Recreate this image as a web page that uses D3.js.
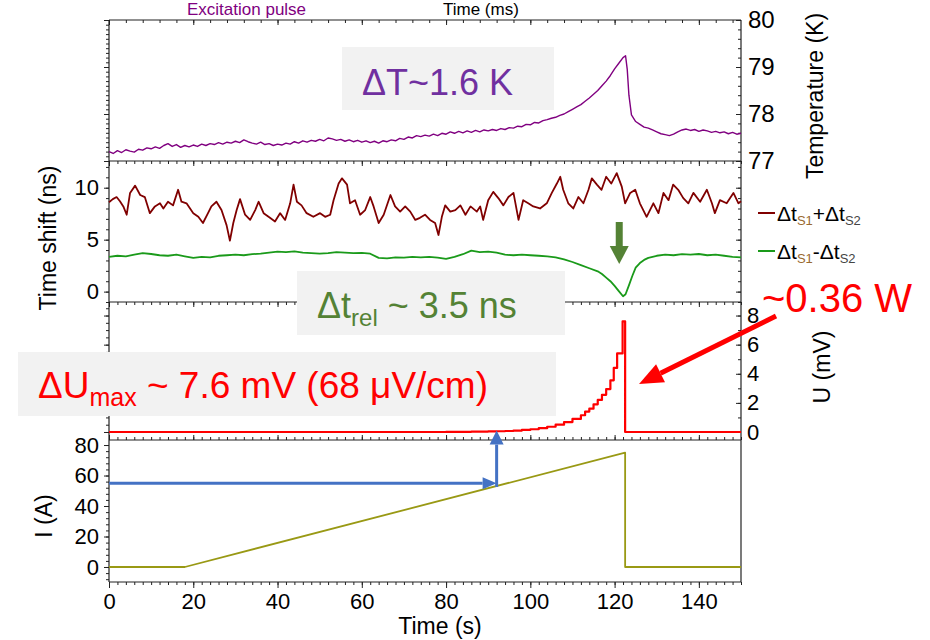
<!DOCTYPE html>
<html>
<head>
<meta charset="UTF-8">
<title>Heating pulse</title>
<script src="https://d3js.org/d3.v7.min.js"></script>
<style>
  body { margin: 0; background: #fff; }
  text { font-family: "Liberation Sans", Arial, sans-serif; }
</style>
</head>
<body>
<div id="chart"></div>
<script>
// ---- data ----
// temperature (K) vs time (s)
const tempData = [
  [0,77.20],[1,77.16],[2,77.22],[3,77.18],[4,77.24],[5,77.21],[6,77.19],[7,77.25],[8,77.23],[9,77.28],
  [10,77.26],[11,77.30],[12,77.27],[13,77.33],[14,77.37],[15,77.31],[16,77.35],[17,77.29],[18,77.33],[19,77.30],
  [20,77.34],[21,77.31],[22,77.36],[23,77.33],[24,77.37],[25,77.35],[26,77.39],[27,77.36],[28,77.40],[29,77.38],
  [30,77.42],[31,77.39],[32,77.45],[33,77.41],[34,77.38],[35,77.36],[36,77.40],[37,77.35],[38,77.37],[39,77.33],
  [40,77.36],[41,77.34],[42,77.38],[43,77.36],[44,77.41],[45,77.38],[46,77.43],[47,77.40],[48,77.44],[49,77.42],
  [50,77.46],[51,77.43],[52,77.49],[53,77.47],[54,77.44],[55,77.46],[56,77.42],[57,77.45],[58,77.41],[59,77.44],
  [60,77.40],[61,77.43],[62,77.39],[63,77.42],[64,77.38],[65,77.43],[66,77.41],[67,77.45],[68,77.43],[69,77.48],
  [70,77.46],[71,77.51],[72,77.49],[73,77.54],[74,77.52],[75,77.55],[76,77.53],[77,77.57],[78,77.54],[79,77.59],
  [80,77.57],[81,77.62],[82,77.59],[83,77.63],[84,77.60],[85,77.64],[86,77.61],[87,77.65],[88,77.62],[89,77.66],
  [90,77.64],[91,77.67],[92,77.65],[93,77.69],[94,77.67],[95,77.71],[96,77.70],[97,77.74],[98,77.73],[99,77.78],
  [100,77.77],[101,77.82],[102,77.81],[103,77.86],[104,77.88],[105,77.91],[106,77.93],[107,77.97],[108,78.00],[109,78.05],
  [110,78.10],[111,78.15],[112,78.20],[113,78.27],[114,78.34],[115,78.42],[116,78.50],[117,78.60],[118,78.70],[119,78.82],
  [120,78.96],[121,79.08],[122,79.20],[122.6,79.24],[123,78.95],[123.4,78.40],[124,77.98],[125,77.84],[126,77.78],[127,77.72],
  [128,77.70],[129,77.66],[130,77.62],[131,77.58],[132,77.56],[133,77.54],[134,77.57],[135,77.62],[136,77.66],[137,77.68],
  [138,77.65],[139,77.67],[140,77.63],[141,77.66],[142,77.64],[143,77.61],[144,77.63],[145,77.60],[146,77.62],[147,77.58],
  [148,77.61],[149,77.57],[150,77.59]
];

// time shift (ns): dt_S1 + dt_S2
const sumShift = [
  [0,8.6],[0.9,8.9],[1.8,9.1],[2.6,8.7],[3.4,8.2],[4.2,7.4],[5,9.5],[6.2,10.2],[7.4,9.3],[8.5,9.1],[9.7,7.55],[10.9,8.2],
  [12.1,8.5],[12.9,8.0],[14,8.65],[15.2,8.3],[16.4,9.8],[17.2,8.65],[18.4,8.5],[20,7.55],[21.2,7.2],[22.3,6.6],
  [23.5,7.55],[24.3,8.2],[25.5,8.65],[26.7,7.85],[27.9,6.4],[28.7,4.9],[29.5,6.6],[30.3,7.85],[31.1,8.9],[32.3,7.4],
  [33.5,6.9],[34.7,7.85],[35.5,8.65],[36.7,7.55],[38.2,7.1],[39.4,6.75],[40.6,7.55],[41.8,6.9],[43,8.5],[43.8,10.3],
  [44.6,8.65],[45.7,8.3],[46.9,7.55],[48.5,7.2],[50.1,7.55],[51.3,7.2],[52.5,7.4],[53.3,8.8],[54.5,10.4],[55.3,10.9],
  [56.5,10.3],[57.2,8.5],[58.4,8.8],[59.6,7.4],[60.8,7.85],[62,9.1],[62.8,8.2],[64,6.6],[65.2,7.4],[66.8,9.3],
  [67.9,8.2],[69.1,7.7],[70.3,8.2],[71.5,7.7],[72.7,6.9],[73.8,7.1],[75,7.4],[76.2,6.9],[77.4,6.6],[78.2,5.45],
  [79,7.2],[79.8,8.3],[81,7.7],[82.2,7.85],[83.4,8.3],[84.6,7.4],[85.8,8.2],[87.3,7.7],[88.1,8.2],[88.8,6.9],
  [90,8.8],[91.2,9.6],[92.4,9.0],[93.6,8.3],[94.8,9.1],[96,9.5],[97.2,6.9],[98.3,8.8],[99.5,8.5],[100.7,8.2],
  [102.3,8.0],[103.9,8.5],[105.1,9.5],[106.3,10.4],[107.1,11.05],[107.8,9.8],[109,8.5],[110.2,8.0],[111.4,9.1],[112.6,8.5],
  [113.8,9.8],[114.6,10.9],[115.8,10.3],[116.9,9.8],[118,11.05],[119.2,10.4],[120.5,11.4],[121.7,10.1],[122.5,8.5],[123.7,9.5],
  [124.9,9.8],[126,8.5],[127.6,7.2],[129.2,8.5],[130.4,7.55],[131.6,9.5],[132.8,8.8],[133.9,10.3],[135.1,9.8],[136.3,9.0],
  [137.5,8.5],[138.7,9.5],[140.3,8.65],[141.9,9.8],[143.1,8.5],[143.8,7.55],[145,8.8],[146.6,8.5],[148.2,9.5],[149.4,8.5],[150,8.7]
];

// time shift (ns): dt_S1 - dt_S2
const diffShift = [
  [0,3.35],[2,3.45],[4,3.40],[6,3.55],[8,3.70],[10,3.62],[12,3.50],[14,3.45],[16,3.55],[18,3.40],
  [20,3.25],[22,3.35],[24,3.30],[26,3.45],[28,3.50],[30,3.55],[32,3.50],[34,3.60],[36,3.65],[38,3.75],
  [40,3.85],[42,3.80],[44,3.88],[46,3.75],[48,3.70],[50,3.65],[52,3.70],[54,3.80],[56,3.75],[58,3.70],
  [60,3.72],[62,3.65],[64,3.25],[66,3.20],[68,3.30],[70,3.28],[72,3.35],[74,3.30],[76,3.35],[78,3.28],
  [80,3.15],[82,3.35],[84,3.60],[86,3.95],[88,3.80],[90,3.85],[92,3.75],[94,3.55],[96,3.50],[98,3.55],
  [100,3.50],[102,3.45],[104,3.40],[106,3.30],[108,3.10],[110,2.85],[112,2.55],[114,2.25],[116,1.95],[117,1.70],
  [118,1.35],[119,1.00],[120,0.55],[121,0.05],[122,-0.45],[122.6,-0.25],[123.4,0.60],[124.2,1.50],[125,2.30],[126,2.75],
  [127,3.05],[128,3.25],[130,3.45],[132,3.55],[134,3.50],[136,3.60],[138,3.55],[140,3.62],[142,3.50],[144,3.55],
  [146,3.45],[148,3.35],[150,3.30]
];

// voltage U (mV), stepped
const voltage = [
  [0,0],[80,0.01],[86,0.02],[88,0.03],[90,0.04],[92,0.05],[94,0.07],[96,0.10],[98,0.14],[100,0.19],
  [102,0.26],[104,0.36],[106,0.50],[108,0.68],[110,0.90],[112,1.15],[113,1.40],[114,1.60],[115,1.90],[116,2.20],
  [117,2.55],[118,2.95],[119,3.55],[119.8,4.4],[120.6,5.4],[121.9,7.6],[122.5,0],[150,0]
];

// current I (A)
const current = [[0,0],[18,0],[122.5,75],[122.5,0],[150,0]];

const xTicks = [0,20,40,60,80,100,120,140];
const tempTicks = [77,78,79,80];
const shiftTicks = [0,5,10];
const voltTicks = [0,2,4,6,8];
const currTicks = [0,20,40,60,80];

// ---- layout ----
const W = 930, H = 640;
const svg = d3.select("#chart").append("svg").attr("width", W).attr("height", H);

const x  = d3.scaleLinear().domain([0,150]).range([109,741]);
const yT = d3.scaleLinear().domain([77,80]).range([161,20]);
const yS = d3.scaleLinear().domain([-1,12.57]).range([302,161]);
const yU = d3.scaleLinear().domain([-0.55,8.93]).range([440,302]);
const yI = d3.scaleLinear().domain([-9.84,83.3]).range([582,440]);

const L = 109, R = 741;
const ink = "#222";

function axis(gen, tx, ty) {
  const g = svg.append("g").attr("transform", `translate(${tx},${ty})`).call(gen);
  g.select(".domain").remove();
  g.selectAll("line").attr("stroke", ink).attr("stroke-width", 1);
  g.selectAll("text").attr("font-size", 22).attr("fill", "#000")
    .attr("font-family", '"Liberation Sans", Arial, sans-serif');
  return g;
}
const none = () => "";
const int = d3.format("d");
const rng = (a, b, s) => d3.range(a, b + s / 2, s);

// top-edge ticks of each panel (inward)
[[20,4],[161,2],[302,2]].forEach(([yy, step]) => {
  axis(d3.axisTop(x).tickValues(rng(0,150,step)).tickSize(-3).tickFormat(none), 0, yy);
  axis(d3.axisTop(x).tickValues(xTicks).tickSize(-5).tickFormat(none), 0, yy);
});
// bottom of U panel (inward)
axis(d3.axisBottom(x).tickValues(rng(0,150,2)).tickSize(-3).tickFormat(none), 0, 440);
axis(d3.axisBottom(x).tickValues(xTicks).tickSize(-5).tickFormat(none), 0, 440);
// bottom of I panel with labels
axis(d3.axisBottom(x).tickValues(rng(0,150,2)).tickSize(3).tickFormat(none), 0, 582);
axis(d3.axisBottom(x).tickValues(xTicks).tickSize(6).tickPadding(5).tickFormat(int), 0, 582);

// left axes (outward)
axis(d3.axisLeft(yT).tickValues(rng(77,80,0.1)).tickSize(3).tickFormat(none), L, 0);
axis(d3.axisLeft(yT).tickValues(tempTicks).tickSize(5).tickFormat(none), L, 0);
axis(d3.axisLeft(yS).tickValues(rng(-1,12,1)).tickSize(3).tickFormat(none), L, 0);
axis(d3.axisLeft(yS).tickValues(shiftTicks).tickSize(5).tickPadding(5).tickFormat(int), L, 0);
axis(d3.axisLeft(yU).tickValues(rng(0,8.5,0.5)).tickSize(3).tickFormat(none), L, 0);
axis(d3.axisLeft(yU).tickValues(voltTicks).tickSize(5).tickFormat(none), L, 0);
axis(d3.axisLeft(yI).tickValues(rng(-8,80,4)).tickSize(3).tickFormat(none), L, 0);
axis(d3.axisLeft(yI).tickValues(currTicks).tickSize(5).tickPadding(5).tickFormat(int), L, 0);

// right axes (inward ticks)
axis(d3.axisRight(yT).tickValues(rng(77,80,0.2)).tickSize(-3).tickFormat(none), R, 0);
axis(d3.axisRight(yT).tickValues(tempTicks).tickSize(-5).tickPadding(7).tickFormat(int), R, 0)
  .selectAll("text").attr("font-size", 24);
axis(d3.axisRight(yS).tickValues(rng(-1,12,1)).tickSize(-3).tickFormat(none), R, 0);
axis(d3.axisRight(yS).tickValues(shiftTicks).tickSize(-5).tickFormat(none), R, 0);
axis(d3.axisRight(yU).tickValues(rng(0,8,1)).tickSize(-3).tickFormat(none), R, 0);
axis(d3.axisRight(yU).tickValues(voltTicks).tickSize(-5).tickPadding(6).tickFormat(int), R, 0);

// panel frames
const frame = svg.append("g").attr("stroke", ink).attr("stroke-width", 1.2);
[20,161,302,440,582].forEach(yy =>
  frame.append("line").attr("x1", L).attr("x2", R).attr("y1", yy).attr("y2", yy));
frame.append("line").attr("x1", L).attr("x2", L).attr("y1", 20).attr("y2", 582);
frame.append("line").attr("x1", R).attr("x2", R).attr("y1", 20).attr("y2", 582);

// ---- curves ----
function curve(data, yScale, color, width, c) {
  svg.append("path").datum(data)
    .attr("fill", "none").attr("stroke", color).attr("stroke-width", width)
    .attr("stroke-linejoin", "round")
    .attr("d", d3.line().x(d => x(d[0])).y(d => yScale(d[1])).curve(c || d3.curveLinear));
}
curve(tempData, yT, "#800080", 1.4);
curve(sumShift, yS, "#800000", 1.8);
curve(diffShift, yS, "#1a9a1a", 1.8);
curve(voltage, yU, "#ff0000", 2.2, d3.curveStepAfter);
curve(current, yI, "#999914", 1.8);

// ---- axis titles ----
function title(txt, tx, ty, rot, size, anchor) {
  svg.append("text").attr("transform", `translate(${tx},${ty}) rotate(${rot})`)
    .attr("text-anchor", anchor || "middle").attr("font-size", size).attr("fill", "#000").text(txt);
}
title("Time (s)", 440, 634, 0, 23);
title("I (A)", 52, 516, -90, 23);
title("Time shift (ns)", 56, 238, -90, 23);
title("U (mV)", 830, 367, -90, 23);
title("Temperature (K)", 823, 96, -90, 23);

// header above the plot (kept fully on the page)
svg.append("text").attr("x", 187).attr("y", 15).attr("font-size", 17).attr("fill", "#800080").text("Excitation pulse");
svg.append("text").attr("x", 443).attr("y", 15).attr("font-size", 17).attr("fill", "#000").text("Time (ms)");

// ---- legend ----
function legendItem(yy, color, op) {
  svg.append("line").attr("x1", 758).attr("x2", 775).attr("y1", yy).attr("y2", yy)
    .attr("stroke", color).attr("stroke-width", 2);
  const t = svg.append("text").attr("x", 777).attr("y", yy + 8).attr("font-size", 21).attr("fill", "#000");
  t.append("tspan").text("\u0394t");
  t.append("tspan").attr("font-size", 13).attr("dy", 4).attr("fill", "#9a6a30").text("S1");
  t.append("tspan").attr("dy", -4).text(op + "\u0394t");
  t.append("tspan").attr("font-size", 13).attr("dy", 4).attr("fill", "#444").text("S2");
}
legendItem(213, "#800000", "+");
legendItem(251, "#1a9a1a", "-");

// ---- annotation boxes ----
function box(bx, by, bw, bh) {
  svg.append("rect").attr("x", bx).attr("y", by).attr("width", bw).attr("height", bh).attr("fill", "#f2f2f2");
}
box(342, 47, 212, 63);
svg.append("text").attr("x", 362).attr("y", 95).attr("font-size", 36).attr("fill", "#7030a0").text("\u0394T~1.6 K");

box(297, 271, 268, 64);
const tr = svg.append("text").attr("x", 317).attr("y", 318).attr("font-size", 36).attr("fill", "#548235");
tr.append("tspan").text("\u0394t");
tr.append("tspan").attr("font-size", 24).attr("dy", 8).text("rel");
tr.append("tspan").attr("dy", -8).text(" ~ 3.5 ns");

box(18, 352, 538, 64);
const tu = svg.append("text").attr("x", 38).attr("y", 398).attr("font-size", 37).attr("fill", "#ff0000");
tu.append("tspan").text("\u0394U");
tu.append("tspan").attr("font-size", 25).attr("dy", 8).text("max");
tu.append("tspan").attr("dy", -8).text(" ~ 7.6 mV (68 \u03bcV/cm)");

svg.append("text").attr("x", 762).attr("y", 312).attr("font-size", 40).attr("fill", "#ff0000").text("~0.36 W");

// ---- arrows ----
function arrow(x1, y1, x2, y2, color, w, hl, hw) {
  const a = Math.atan2(y2 - y1, x2 - x1);
  const bx = x2 - hl * Math.cos(a), by = y2 - hl * Math.sin(a);
  svg.append("line").attr("x1", x1).attr("y1", y1).attr("x2", bx).attr("y2", by)
    .attr("stroke", color).attr("stroke-width", w);
  const px = -Math.sin(a) * hw / 2, py = Math.cos(a) * hw / 2;
  svg.append("polygon")
    .attr("points", [[x2, y2], [bx + px, by + py], [bx - px, by - py]].map(p => p.join(",")).join(" "))
    .attr("fill", color);
}
// red arrow pointing at the voltage drop
arrow(776, 316, x(125.8), yU(3.3), "#ff0000", 5, 24, 20);
// green arrow above the dip
arrow(x(121.1), yS(6.7), x(121.1), yS(2.65), "#548235", 7, 18, 19);
// blue arrows: current level -> onset of voltage
arrow(L, yI(55), x(92), yI(55), "#4472c4", 3, 14, 12);
arrow(x(92), yI(52.5), x(92), yU(0.1), "#4472c4", 3, 14, 14);
</script>
</body>
</html>
